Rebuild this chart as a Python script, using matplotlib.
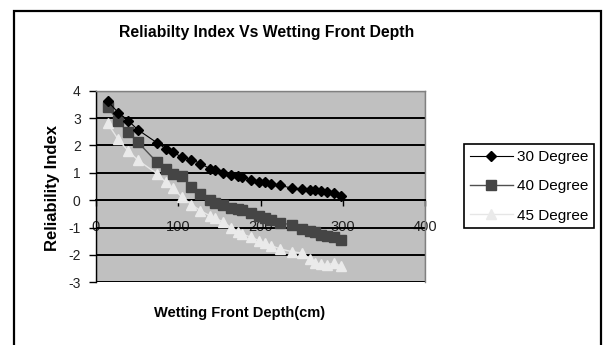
import matplotlib
matplotlib.use("Agg")
import matplotlib.pyplot as plt
from matplotlib.patches import Rectangle

plt.rcParams['font.family'] = ['Liberation Sans', 'DejaVu Sans']

# Wetting front depth (cm)
depth = [14, 27, 39, 51, 74, 85, 94, 104, 116, 127, 139, 145, 155, 164, 173,
         178, 188, 198, 206, 213, 224, 238, 250, 260, 266, 273, 281, 289, 298]

# Reliability index for each slope angle
deg30 = [3.62, 3.20, 2.91, 2.57, 2.10, 1.88, 1.76, 1.57, 1.48, 1.34, 1.14, 1.11,
         1.00, 0.93, 0.87, 0.83, 0.75, 0.68, 0.65, 0.60, 0.54, 0.44, 0.41, 0.36,
         0.36, 0.33, 0.31, 0.26, 0.17]
deg40 = [3.42, 2.88, 2.48, 2.12, 1.39, 1.14, 0.95, 0.88, 0.47, 0.23, 0.02, -0.10,
         -0.18, -0.28, -0.31, -0.36, -0.46, -0.56, -0.66, -0.72, -0.83, -0.90,
         -1.07, -1.14, -1.18, -1.26, -1.30, -1.34, -1.44]
deg45 = [2.81, 2.22, 1.80, 1.46, 0.97, 0.65, 0.43, 0.12, -0.16, -0.38, -0.58,
         -0.66, -0.80, -1.00, -1.18, -1.25, -1.34, -1.48, -1.58, -1.66, -1.78,
         -1.88, -1.93, -2.15, -2.29, -2.33, -2.35, -2.31, -2.40]

series_labels = ['30 Degree', '40 Degree', '45 Degree']
x_ticks = [0, 100, 200, 300, 400]
y_ticks = [-3, -2, -1, 0, 1, 2, 3, 4]

W, H = 603, 345
fig = plt.figure(figsize=(W / 100, H / 100), dpi=100)
fig.patch.set_facecolor('white')

# outer chart border (bottom edge runs off the page)
fig.patches.append(Rectangle((14 / W, -0.05), (601 - 14) / W, 1.05 - 11 / H,
                             transform=fig.transFigure, fill=False,
                             edgecolor='black', linewidth=1.6, zorder=0))

left, right, top, bottom = 96, 425, 90.7, 282.3
ax = fig.add_axes([left / W, 1 - bottom / H, (right - left) / W, (bottom - top) / H])
ax.set_facecolor('#C0C0C0')

ax.plot(depth, deg30, color='black', lw=0.8, marker='D', ms=5.5,
        mfc='black', mec='black', label=series_labels[0], zorder=5)
ax.plot(depth, deg40, color='#505050', lw=1.0, marker='s', ms=7,
        mfc='#454545', mec='#454545', label=series_labels[1], zorder=4)
ax.plot(depth, deg45, color='#E6E6E6', lw=1.0, marker='^', ms=7.5,
        mfc='#EAEAEA', mec='#EAEAEA', label=series_labels[2], zorder=3)

ax.set_xlim(0, 400)
ax.set_ylim(-3, 4)
ax.set_xticks(x_ticks)
ax.set_yticks(y_ticks)
ax.set_xticklabels([str(v) for v in x_ticks])
ax.set_yticklabels([str(v) for v in y_ticks])

ax.grid(axis='y', color='black', linewidth=1.4, zorder=1)
ax.set_axisbelow(True)

for s in ['top', 'right']:
    ax.spines[s].set_color('#808080')
    ax.spines[s].set_linewidth(1.0)
ax.spines['left'].set_color('black')
ax.spines['left'].set_linewidth(1.0)
ax.spines['bottom'].set_position(('data', 0))
ax.spines['bottom'].set_color('black')
ax.spines['bottom'].set_linewidth(1.4)
# gray frame along the true bottom of the plot area
ax.add_patch(Rectangle((0, 0), 1, 1, transform=ax.transAxes, fill=False,
                       edgecolor='#808080', linewidth=1.0, zorder=0.5))

ax.tick_params(axis='x', direction='out', length=4, width=1, pad=10.5,
               labelsize=10.5, colors='black', labelcolor='#222222')
ax.tick_params(axis='y', direction='out', length=5, width=1, pad=6,
               labelsize=10, colors='black', labelcolor='#222222')

fig.text(267 / W, 1 - 33 / H, 'Reliabilty Index Vs Wetting Front Depth',
         ha='center', va='center', fontsize=11.3, fontweight='bold')
fig.text(52 / W, 1 - 188 / H, 'Reliability Index', rotation=90,
         ha='center', va='center', fontsize=12, fontweight='bold')
fig.text(240 / W, 1 - 313 / H, 'Wetting Front Depth(cm)',
         ha='center', va='center', fontsize=10.5, fontweight='bold')

leg = ax.legend(loc='center', bbox_to_anchor=(529 / W, 1 - 186.3 / H),
                bbox_transform=fig.transFigure, frameon=True, fancybox=False,
                edgecolor='black', facecolor='white', framealpha=1,
                fontsize=11, handlelength=2.8, handletextpad=0.26,
                labelspacing=1.0, borderpad=0.38, borderaxespad=0)
leg.get_frame().set_linewidth(1.2)

fig.savefig('out.png', dpi=100, facecolor='white')
